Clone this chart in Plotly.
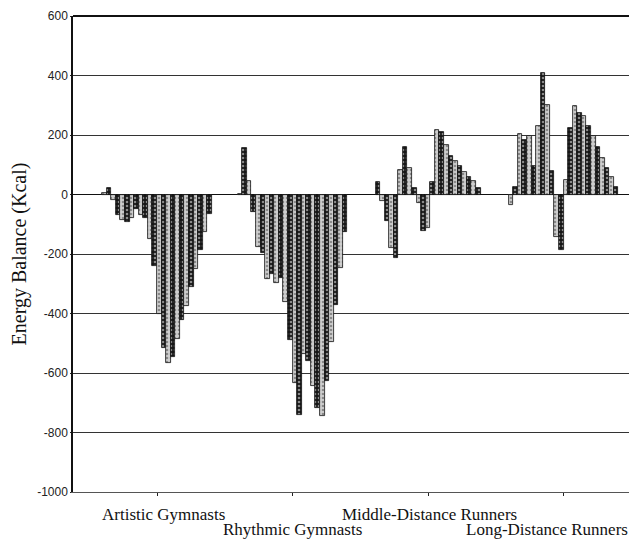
import plotly.graph_objects as go

# ---- data (kcal) ----
group_labels = ["Artistic Gymnasts", "Rhythmic Gymnasts",
                "Middle-Distance Runners", "Long-Distance Runners"]

artistic = [5, 22, -20, -70, -85, -94, -80, -50, -70, -80, -148, -240,
            -400, -517, -565, -545, -485, -422, -374, -310, -250, -187,
            -126, -65]
rhythmic = [3, 158, 46, -58, -177, -195, -285, -268, -297, -280, -363,
            -490, -632, -740, -535, -560, -645, -718, -745, -627, -495,
            -372, -247, -125]
middle = [43, -22, -88, -180, -212, 82, 160, 89, 21, -30, -123, -112,
          43, 217, 210, 165, 130, 112, 95, 75, 58, 45, 22]
long_dist = [-35, 25, 205, 183, 195, 97, 230, 410, 302, 78, -143, -185,
             48, 225, 297, 275, 265, 230, 195, 160, 123, 90, 60, 25]

y_ticks = [600, 400, 200, 0, -200, -400, -600, -800, -1000]

# ---- styling ----
groups = [artistic, rhythmic, middle, long_dist]
first_dark = [False, False, True, False]
bar_w = 0.0337
DARK_BG, DARK_FG = "#161616", "#9a9a9a"
LIGHT_BG, LIGHT_FG = "#cfcfcf", "#6e6e6e"

fig = go.Figure()
for g, vals in enumerate(groups):
    n = len(vals)
    xs = [g + (i - (n - 1) / 2) * bar_w for i in range(n)]
    dark = [((i % 2 == 0) == first_dark[g]) for i in range(n)]
    bg = [DARK_BG if d else LIGHT_BG for d in dark]
    fg = [DARK_FG if d else LIGHT_FG for d in dark]
    fig.add_trace(go.Bar(
        x=xs, y=vals, width=bar_w,
        marker=dict(color=bg,
                    line=dict(color="#111", width=0.8),
                    pattern=dict(shape=".", fgcolor=fg, bgcolor=bg,
                                 size=4, solidity=0.35)),
        name=group_labels[g], showlegend=False, hoverinfo="y"))

# the page body adds an 8px offset; size the figure to fill the window
fig.update_layout(
    width=629, height=532,
    margin=dict(l=65, r=0, t=8, b=48, autoexpand=False),
    plot_bgcolor="white", paper_bgcolor="white",
    bargap=0, barmode="overlay",
    font=dict(family="Liberation Sans", color="#222"),
)
fig.update_yaxes(
    range=[-1000, 600], tickvals=y_ticks,
    ticktext=[str(v) for v in y_ticks],
    tickfont=dict(family="Liberation Sans", size=12, color="#222"),
    ticks="outside", ticklen=1, tickcolor="#222",
    showline=True, linecolor="#111", linewidth=1.5,
    showgrid=True, gridcolor="#333", gridwidth=1,
    zeroline=True, zerolinecolor="#111", zerolinewidth=1.3,
    title=dict(text="Energy Balance (Kcal)",
               font=dict(family="Liberation Serif", size=20, color="#111"),
               standoff=6),
)
fig.update_xaxes(
    range=[-0.62, 3.542], tickvals=[0, 1, 2, 3], showticklabels=False,
    ticks="outside", ticklen=3, tickcolor="#222",
    showline=True, linecolor="#555", linewidth=1,
    showgrid=False, zeroline=False,
)
# bold top border at 600
fig.add_shape(type="line", xref="paper", yref="paper", x0=0, x1=1, y0=1, y1=1,
              line=dict(color="#111", width=2))

label_x = [0.05, 1.0, 2.01, 2.88]
label_shift = [-22, -37, -22, -37]
for txt, lx, sh in zip(group_labels, label_x, label_shift):
    fig.add_annotation(text=txt, x=lx, xref="x", y=0, yref="paper",
                       yanchor="middle", yshift=sh, showarrow=False,
                       font=dict(family="Liberation Serif", size=17, color="#111"))

fig.write_html("out.html")
